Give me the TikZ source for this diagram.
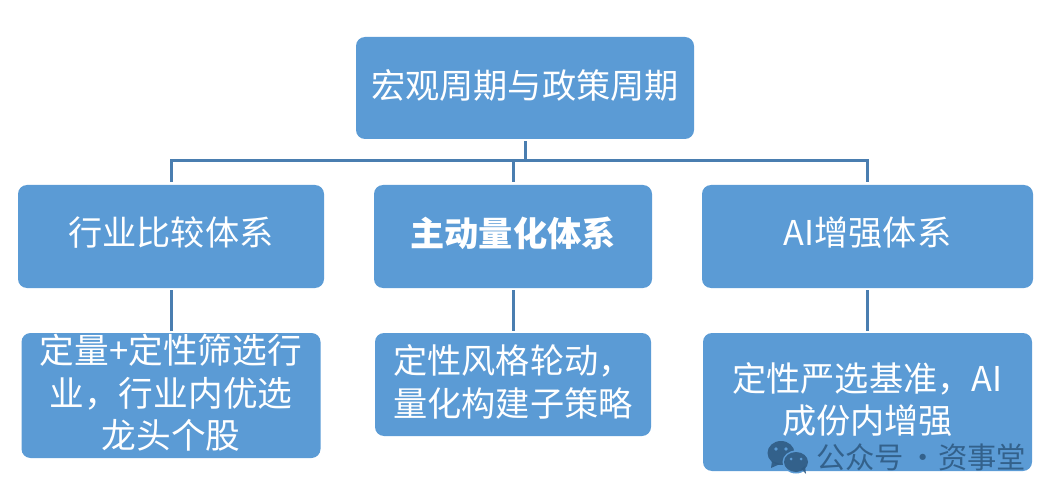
\documentclass[tikz,border=0pt]{standalone}
\usepackage{fontspec}
\setmainfont{Noto Sans CJK SC}
\usetikzlibrary{positioning}
\definecolor{boxblue}{HTML}{5B9BD5}
\definecolor{linkblue}{HTML}{4A7EB0}
\definecolor{markblue}{HTML}{2F5B84}
\tikzset{
  box/.style={fill=boxblue,text=white,rounded corners=9pt,inner sep=0pt,align=center,
    font=\fontsize{34.2}{42.5}\selectfont},
  link/.style={linkblue,line width=3pt},
  mark text/.style={markblue,opacity=.9,inner sep=0pt,font=\fontsize{29.3}{30}\selectfont}
}
\begin{document}
\begin{tikzpicture}[x=1pt,y=-1pt]
    \useasboundingbox (0,0) rectangle (1061,500);

    \node[box,minimum width=338pt,minimum height=102pt,text depth=8pt] (macro) at (525,88) {宏观周期与政策周期};

    \node[box,minimum width=278pt,minimum height=103pt,text depth=10pt] (quant) [below of=macro,node distance=148.5pt,xshift=-12pt] {\textbf{主动量化体系}};
    \node[box,minimum width=306pt,minimum height=103pt,text depth=10pt] (sector) [left of=quant,node distance=342pt] {行业比较体系};
    \node[box,minimum width=331pt,minimum height=103pt,text depth=10pt] (aienh) [right of=quant,node distance=354.5pt] {AI增强体系};

    \node[box,minimum width=299pt,minimum height=125pt,text depth=8pt,font=\fontsize{34.7}{42.5}\selectfont] (sectordesc) [below of=sector,node distance=159pt] {定量+定性筛选行\\业，行业内优选\\龙头个股};
    \node[box,minimum width=276pt,minimum height=103pt,text depth=8pt] (quantdesc) [below of=quant,node distance=148pt] {定性风格轮动，\\量化构建子策略};
    \node[box,minimum width=329pt,minimum height=138pt,text depth=8pt] (aidesc) [below of=aienh,node distance=165.5pt] {定性严选基准，AI\\成份内增强};

    \coordinate (hub) at (525,161);

    \draw[link,shorten <=2pt] (macro.south) -- (hub);
    \draw[link,shorten >=3pt] (hub) -| (sector.north);
    \draw[link,shorten >=3pt] (hub) -| (quant.north);
    \draw[link,shorten >=3pt] (hub) -| (aienh.north);
    \draw[link,shorten <=2pt,shorten >=2pt] (sector.south) -- (sector.south |- sectordesc.north);
    \draw[link,shorten <=2pt,shorten >=2pt] (quant.south) -- (quantdesc.north);
    \draw[link,shorten <=2pt,shorten >=2pt] (aienh.south) -- (aidesc.north);

    % watermark
    \fill[markblue,opacity=.9] (781,453) ellipse (13.5pt and 12pt);
    \fill[markblue,opacity=.9] (772,461) -- (771,468) -- (780,464) -- cycle;
    \fill[boxblue] (796,462) ellipse (13.5pt and 11.5pt);
    \fill[markblue,opacity=.9] (796,462) ellipse (12pt and 10pt);
    \fill[markblue,opacity=.9] (801,469) -- (806,474) -- (805,466) -- cycle;
    \fill[boxblue] (776,449) circle (1.8pt) (786,449) circle (1.8pt)
      (791,459) circle (1.5pt) (801,459) circle (1.5pt);
    \node[mark text,anchor=west] (wechat) at (816,457) {公众号\hspace{4pt}·\hspace{1pt}资事堂};
\end{tikzpicture}
\end{document}
